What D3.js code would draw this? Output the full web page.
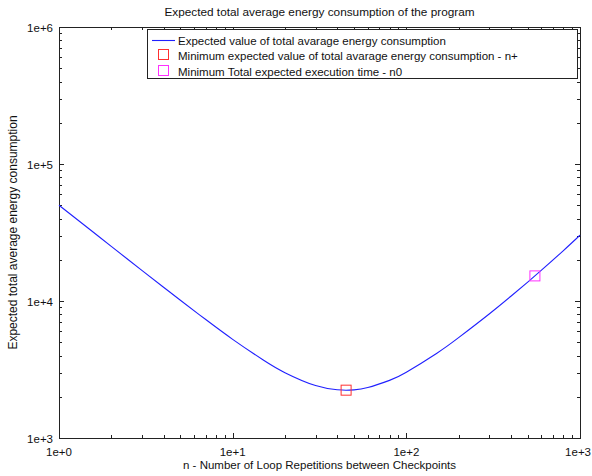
<!DOCTYPE html>
<html>
<head>
<meta charset="utf-8">
<script src="https://cdn.jsdelivr.net/npm/d3@7"></script>
<style>
  html, body { margin: 0; padding: 0; background: #fff; }
  svg { display: block; font-family: "Liberation Sans", Arial, Helvetica, sans-serif; }
</style>
</head>
<body>
<svg id="chart" width="592" height="476"></svg>
<script>
// Loop repetitions between checkpoints (n) and expected total average energy consumption
const nValues = [1, 1.5, 2, 3, 4, 5, 7, 10, 15, 20, 30, 40, 45, 50, 60, 80, 100, 150, 200, 300, 400, 500, 600, 800, 1000];
const energyValues = [50000, 33370, 25050, 16740, 12600, 10120, 7320, 5250, 3710, 3000, 2415, 2252, 2234, 2247, 2334, 2634, 3020, 4160, 5400, 8040, 10830, 13750, 16790, 23250, 30220];

// Marked optima
const minEnergyPoint = { n: 45, value: 2234 };      // n+
const minTimePoint = { n: 550, value: 15250 };      // n0

const xTickValues = [1, 10, 100, 1000];
const xTickLabels = ["1e+0", "1e+1", "1e+2", "1e+3"];
const yTickValues = [1e3, 1e4, 1e5, 1e6];
const yTickLabels = ["1e+3", "1e+4", "1e+5", "1e+6"];

const legendLabels = [
  "Expected value of total avarage energy consumption",
  "Minimum expected value of total avarage energy consumption - n+",
  "Minimum Total expected execution time - n0"
];

const svg = d3.select("#chart");
const plotL = 59, plotR = 580, plotT = 27, plotB = 438;

const x = d3.scaleLog().domain([1, 1000]).range([plotL, plotR]);
const y = d3.scaleLog().domain([1e3, 1e6]).range([plotB, plotT]);

// minor tick positions (2..9 per decade)
function minors(lo, hi) {
  const out = [];
  for (let d = lo; d < hi; d *= 10) for (let k = 2; k <= 9; k++) out.push(d * k);
  return out;
}
const xMinor = minors(1, 1000);
const yMinor = minors(1e3, 1e6);

const axisColor = "#222";
const fs = 11.5;
const g = svg.append("g");

// inward ticks on all four sides
function drawTicks(vals, len, side) {
  vals.forEach(v => {
    let x1, y1, x2, y2;
    if (side === "bottom") { x1 = x2 = Math.round(x(v)) + 0.5; y1 = plotB; y2 = plotB - len; }
    if (side === "top") { x1 = x2 = Math.round(x(v)) + 0.5; y1 = plotT; y2 = plotT + len; }
    if (side === "left") { y1 = y2 = Math.round(y(v)) + 0.5; x1 = plotL; x2 = plotL + len; }
    if (side === "right") { y1 = y2 = Math.round(y(v)) + 0.5; x1 = plotR; x2 = plotR - len; }
    g.append("line").attr("x1", x1).attr("y1", y1).attr("x2", x2).attr("y2", y2)
      .attr("stroke", axisColor).attr("stroke-width", 1);
  });
}
["bottom", "top"].forEach(s => { drawTicks(xTickValues, 5, s); drawTicks(xMinor, 3, s); });
["left", "right"].forEach(s => { drawTicks(yTickValues, 5, s); drawTicks(yMinor, 3, s); });

// plot frame
g.append("rect")
  .attr("x", plotL + 0.5).attr("y", plotT + 0.5)
  .attr("width", plotR - plotL).attr("height", plotB - plotT)
  .attr("fill", "none").attr("stroke", axisColor).attr("stroke-width", 1);

// tick labels (the last x label is kept inside the page edge)
g.selectAll(".xl").data(xTickValues).join("text")
  .attr("x", (d, i) => i === xTickValues.length - 1 ? 591 : x(d)).attr("y", plotB + 18)
  .attr("text-anchor", (d, i) => i === xTickValues.length - 1 ? "end" : "middle")
  .attr("font-size", fs).attr("fill", "#111")
  .text((d, i) => xTickLabels[i]);
g.selectAll(".yl").data(yTickValues).join("text")
  .attr("x", plotL - 6).attr("y", d => y(d) + 5)
  .attr("text-anchor", "end").attr("font-size", fs).attr("fill", "#111")
  .text((d, i) => yTickLabels[i]);

// titles
svg.append("text").attr("x", (plotL + plotR) / 2).attr("y", 16)
  .attr("text-anchor", "middle").attr("font-size", 11.8).attr("fill", "#111")
  .text("Expected total average energy consumption of the program");
svg.append("text").attr("x", (plotL + plotR) / 2).attr("y", 469)
  .attr("text-anchor", "middle").attr("font-size", fs).attr("fill", "#111")
  .text("n - Number of Loop Repetitions between Checkpoints");
svg.append("text")
  .attr("transform", `translate(17, ${(plotT + plotB) / 2}) rotate(-90)`)
  .attr("text-anchor", "middle").attr("font-size", 12).attr("fill", "#111")
  .text("Expected total average energy consumption");

// energy curve
const line = d3.line()
  .x((d, i) => x(nValues[i]))
  .y(d => y(d))
  .curve(d3.curveNatural);
svg.append("path").datum(energyValues)
  .attr("d", line)
  .attr("fill", "none").attr("stroke", "#2020ff").attr("stroke-width", 1.1);

// optimum markers
const mk = 10;
svg.append("rect")
  .attr("x", x(minEnergyPoint.n) - mk / 2).attr("y", y(minEnergyPoint.value) - mk / 2)
  .attr("width", mk).attr("height", mk)
  .attr("fill", "none").attr("stroke", "#ff3030").attr("stroke-width", 1);
svg.append("rect")
  .attr("x", x(minTimePoint.n) - mk / 2).attr("y", y(minTimePoint.value) - mk / 2)
  .attr("width", mk).attr("height", mk)
  .attr("fill", "none").attr("stroke", "#ff30ff").attr("stroke-width", 1);

// legend
const lg = svg.append("g");
lg.append("rect").attr("x", 147.5).attr("y", 29.5).attr("width", 430).attr("height", 49)
  .attr("fill", "#fff").attr("stroke", axisColor).attr("stroke-width", 1);
const rowY = [40, 55, 71];
lg.append("line").attr("x1", 152).attr("x2", 175).attr("y1", rowY[0] + 0.5).attr("y2", rowY[0] + 0.5)
  .attr("stroke", "#2020ff").attr("stroke-width", 1.1);
lg.append("rect").attr("x", 158.5).attr("y", rowY[1] - 5.5).attr("width", mk).attr("height", mk)
  .attr("fill", "none").attr("stroke", "#ff3030");
lg.append("rect").attr("x", 158.5).attr("y", rowY[2] - 5.5).attr("width", mk).attr("height", mk)
  .attr("fill", "none").attr("stroke", "#ff30ff");
lg.selectAll(".lt").data(legendLabels).join("text")
  .attr("x", 178).attr("y", (d, i) => rowY[i] + 4.5)
  .attr("font-size", fs).attr("fill", "#111")
  .text(d => d);
</script>
</body>
</html>
